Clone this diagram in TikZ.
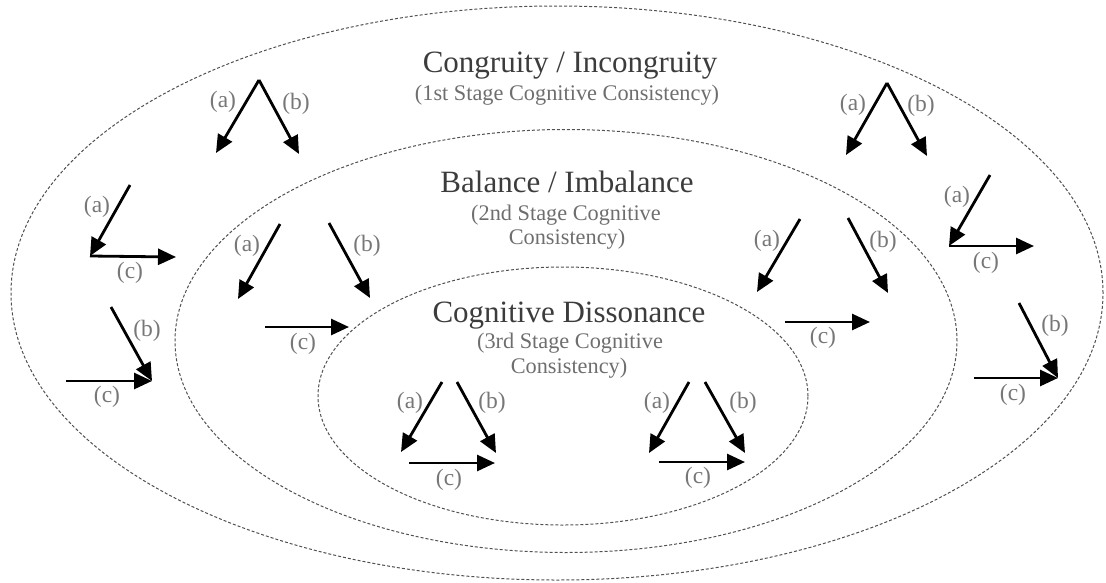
\documentclass[tikz,border=0pt]{standalone}
\usepackage{fontspec}
\setmainfont{Liberation Serif}
\usetikzlibrary{arrows.meta,shapes.geometric}
\definecolor{ringgray}{HTML}{505050}
\definecolor{titlegray}{HTML}{3C3C3C}
\definecolor{subgray}{HTML}{6E6E6E}
\definecolor{labgray}{HTML}{777777}
\tikzset{
  ring/.style={ellipse, draw=ringgray, line width=1pt, dash pattern=on 3pt off 2pt, inner sep=0pt},
  title/.style={anchor=base, text=titlegray, font=\fontsize{31}{33}\selectfont},
  subtitle/.style={anchor=base, text=subgray, font=\fontsize{22.3}{24}\selectfont},
  lab/.style={text=labgray, font=\fontsize{23.5}{25}\selectfont, inner sep=0pt},
  arr/.style={line width=2.8pt, -{Triangle[length=18pt,width=16pt]}},
}
\begin{document}
\begin{tikzpicture}[x=1pt,y=-1pt]
\useasboundingbox (0,0) rectangle (1106,582);

% nested stages
\node[ring, minimum width=1092pt, minimum height=574pt] (outer) at (557,293) {};
\node[ring, minimum width=782pt, minimum height=423pt] (middle) at (566,341) {};
\node[ring, minimum width=490pt, minimum height=258pt] (inner) at (563,396) {};

% stage titles
\node[title] (t1) at (570,72) {Congruity / Incongruity};
\node[subtitle] (s1) at (567,100) {(1st Stage Cognitive Consistency)};
\node[title] (t2) at (567,192) {Balance / Imbalance};
\node[subtitle] (s2a) at (566,220) {(2nd Stage Cognitive};
\node[subtitle] (s2b) at (567,244) {Consistency)};
\node[title] (t3) at (569,322) {Cognitive Dissonance};
\node[subtitle] (s3a) at (570,348) {(3rd Stage Cognitive};
\node[subtitle] (s3b) at (569,373) {Consistency)};

% ---- outer ring, left ----
\coordinate (oa1) at (259,80);
\coordinate (oa1a) at (216,153);
\coordinate (oa1b) at (299,154);
\draw[arr] (oa1) -- (oa1a);
\draw[arr] (oa1) -- (oa1b);
\node[lab] (loa1a) at (223,102) {(a)};
\node[lab] (loa1b) at (296,104) {(b)};

\coordinate (ob1s) at (130,185);
\coordinate (ob1c) at (90,256);
\coordinate (ob1e) at (176,257);
\draw[arr] (ob1s) -- (ob1c);
\draw[arr] (ob1c) -- (ob1e);
\node[lab] (lob1a) at (97,207) {(a)};
\node[lab] (lob1c) at (130,273) {(c)};

\coordinate (oc1s) at (111,307);
\coordinate (oc1t) at (152,381);
\coordinate (oc1c) at (66,381);
\draw[arr] (oc1s) -- (oc1t);
\draw[arr] (oc1c) -- (oc1t);
\node[lab] (loc1b) at (147,331) {(b)};
\node[lab] (loc1c) at (107,397) {(c)};

% ---- outer ring, right ----
\coordinate (oa2) at (887,83);
\coordinate (oa2a) at (846,155);
\coordinate (oa2b) at (927,156);
\draw[arr] (oa2) -- (oa2a);
\draw[arr] (oa2) -- (oa2b);
\node[lab] (loa2a) at (853,105) {(a)};
\node[lab] (loa2b) at (921,106) {(b)};

\coordinate (ob2s) at (990,175);
\coordinate (ob2c) at (949,246);
\coordinate (ob2e) at (1034,246);
\draw[arr] (ob2s) -- (ob2c);
\draw[arr] (ob2c) -- (ob2e);
\node[lab] (lob2a) at (957,197) {(a)};
\node[lab] (lob2c) at (986,263) {(c)};

\coordinate (oc2s) at (1019,303);
\coordinate (oc2t) at (1058,378);
\coordinate (oc2c) at (974,378);
\draw[arr] (oc2s) -- (oc2t);
\draw[arr] (oc2c) -- (oc2t);
\node[lab] (loc2b) at (1055,326) {(b)};
\node[lab] (loc2c) at (1013,395) {(c)};

% ---- middle ring, left ----
\coordinate (ma1s) at (280,224);
\coordinate (ma1e) at (238,299);
\coordinate (mb1s) at (329,223);
\coordinate (mb1e) at (370,298);
\coordinate (mc1s) at (265,327);
\coordinate (mc1e) at (349,327);
\draw[arr] (ma1s) -- (ma1e);
\draw[arr] (mb1s) -- (mb1e);
\draw[arr] (mc1s) -- (mc1e);
\node[lab] (lma1) at (247,246) {(a)};
\node[lab] (lmb1) at (367,246) {(b)};
\node[lab] (lmc1) at (303,344) {(c)};

% ---- middle ring, right ----
\coordinate (ma2s) at (800,219);
\coordinate (ma2e) at (757,292);
\coordinate (mb2s) at (848,218);
\coordinate (mb2e) at (888,293);
\coordinate (mc2s) at (785,322);
\coordinate (mc2e) at (870,322);
\draw[arr] (ma2s) -- (ma2e);
\draw[arr] (mb2s) -- (mb2e);
\draw[arr] (mc2s) -- (mc2e);
\node[lab] (lma2) at (767,241) {(a)};
\node[lab] (lmb2) at (883,242) {(b)};
\node[lab] (lmc2) at (823,338) {(c)};

% ---- inner ring ----
\coordinate (ia1s) at (442,382);
\coordinate (ia1e) at (401,452);
\coordinate (ib1s) at (457,382);
\coordinate (ib1e) at (496,453);
\coordinate (ic1s) at (409,463);
\coordinate (ic1e) at (495,463);
\draw[arr] (ia1s) -- (ia1e);
\draw[arr] (ib1s) -- (ib1e);
\draw[arr] (ic1s) -- (ic1e);
\node[lab] (lia1) at (410,403) {(a)};
\node[lab] (lib1) at (492,403) {(b)};
\node[lab] (lic1) at (449,480) {(c)};

\coordinate (ia2s) at (689,382);
\coordinate (ia2e) at (649,453);
\coordinate (ib2s) at (705,382);
\coordinate (ib2e) at (745,453);
\coordinate (ic2s) at (659,462);
\coordinate (ic2e) at (745,462);
\draw[arr] (ia2s) -- (ia2e);
\draw[arr] (ib2s) -- (ib2e);
\draw[arr] (ic2s) -- (ic2e);
\node[lab] (lia2) at (657,403) {(a)};
\node[lab] (lib2) at (743,403) {(b)};
\node[lab] (lic2) at (698,478) {(c)};
\end{tikzpicture}
\end{document}
